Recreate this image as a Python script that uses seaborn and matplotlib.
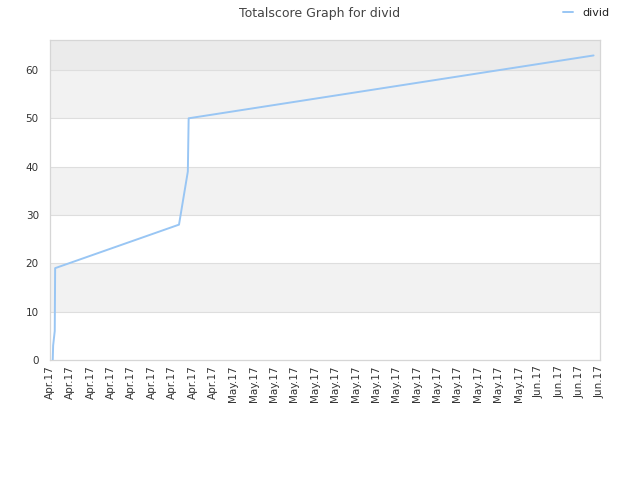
import pandas as pd
import matplotlib
matplotlib.use('Agg')
import matplotlib.pyplot as plt
import seaborn as sns

sns.set_style("white")
plt.rcParams['font.family'] = ['DejaVu Sans']

# score history for "divid"
timestamps = [
    "2017-04-12 07:00", "2017-04-12 08:00", "2017-04-12 12:00", "2017-04-12 13:00",
    "2017-04-25 09:00", "2017-04-26 07:00", "2017-04-26 09:00", "2017-06-07 08:00",
]
scores = [0, 3, 6, 19, 28, 39, 50, 63]

x_start = pd.Timestamp("2017-04-12 00:00")
x_end = pd.Timestamp("2017-06-08 00:00")
n_ticks = 28

df = pd.DataFrame({"time": pd.to_datetime(timestamps), "score": scores, "user": "divid"})

fig = plt.figure(figsize=(6.4, 4.8), dpi=100)
ax = fig.add_axes([0.078, 0.25, 0.8595, 0.6667])

ymax = 66.2
# alternating background bands
band_colors = ['#ffffff', '#f2f2f2']
for i, lo in enumerate(range(0, 60, 10)):
    ax.axhspan(lo, lo + 10, color=band_colors[i % 2], zorder=0, lw=0)
ax.axhspan(60, ymax, color='#ebebeb', zorder=0, lw=0)
for y in range(10, 70, 10):
    ax.axhline(y, color='#dedede', lw=0.8, zorder=1)

sns.lineplot(data=df, x="time", y="score", hue="user", palette=['#99c6f4'],
             linewidth=1.4, ax=ax, zorder=3, estimator=None, sort=False)

ax.set_xlim(x_start, x_end)
ax.set_ylim(0, ymax)
ticks = pd.date_range(x_start, x_end, periods=n_ticks)
ax.set_xticks(ticks)
ax.set_xticklabels([t.strftime('%b.%y') for t in ticks], rotation=90, fontsize=7.5, color='#333333')
ax.set_yticks(range(0, 70, 10))
ax.tick_params(axis='y', labelsize=7.5, colors='#333333', length=0, pad=8)
ax.tick_params(axis='x', length=0, pad=4)
for spine in ax.spines.values():
    spine.set_color('#d6d6d6')
    spine.set_linewidth(0.9)
ax.set_xlabel('')
ax.set_ylabel('')

fig.suptitle('Totalscore Graph for divid', x=0.5, y=0.985, fontsize=9, color='#444444')
leg = ax.legend(loc='upper right', bbox_to_anchor=(1.035, 1.13), frameon=False,
                fontsize=8, handlelength=0.9, handletextpad=0.8)
for t in leg.get_texts():
    t.set_color('#222222')

fig.savefig('out.png', dpi=100)
